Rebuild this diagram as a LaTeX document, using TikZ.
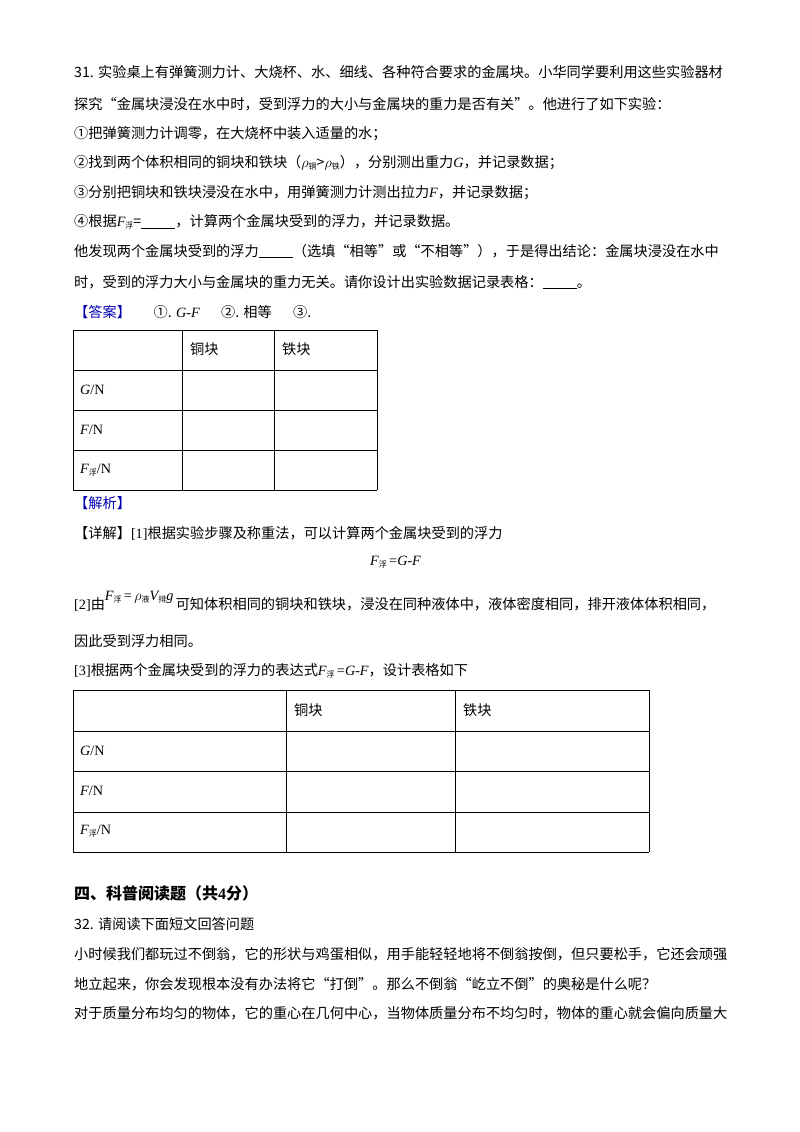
\documentclass[tikz,border=0pt]{standalone}
\usepackage{fontspec}
\setmainfont{Liberation Serif}
\newfontfamily\cjk{Noto Sans CJK SC}
\newcommand{\itx}[1]{{\itshape #1}}
\newcommand{\subx}[1]{\raisebox{-0.3ex}{\fontsize{8}{8}\selectfont #1}}
\begin{document}
\begin{tikzpicture}[x=1pt,y=-1pt,
  tx/.style={anchor=west,inner sep=0pt,font=\fontsize{14.2}{14.2}\selectfont\cjk},
  tb/.style={draw=black,line width=0.8pt},
  blue/.style={text=blue!70!black}]
\useasboundingbox (0,0) rectangle (800,1132);
\node[tx] (l1) at (74,72) {31. 实验桌上有弹簧测力计、大烧杯、水、细线、各种符合要求的金属块。小华同学要利用这些实验器材};
\node[tx] (l2) at (74,104) {探究“金属块浸没在水中时，受到浮力的大小与金属块的重力是否有关”。他进行了如下实验：};
\node[tx] (l3) at (74,134) {①把弹簧测力计调零，在大烧杯中装入适量的水；};
\node[tx] (l4) at (74,163) {②找到两个体积相同的铜块和铁块（$\rho$\subx{铜}>$\rho$\subx{铁}），分别测出重力{\rmfamily\itx{G}}，并记录数据；};
\node[tx] (l5) at (74,193) {③分别把铜块和铁块浸没在水中，用弹簧测力计测出拉力{\rmfamily\itx{F}}，并记录数据；};
\node[tx] (l6) at (74,222) {④根据{\rmfamily\itx{F}}\subx{浮}=\underline{\hspace{2.4em}}，计算两个金属块受到的浮力，并记录数据。};
\node[tx] (l7) at (74,251) {他发现两个金属块受到的浮力\underline{\hspace{2.4em}}（选填“相等”或“不相等”），于是得出结论：金属块浸没在水中};
\node[tx] (l8) at (74,282) {时，受到的浮力大小与金属块的重力无关。请你设计出实验数据记录表格：\underline{\hspace{2.4em}}。};
\node[tx] (ans) at (74,312) {{\color{blue!70!black}【答案】}\hspace{1.6em}①. {\rmfamily\itx{G-F}}\hspace{1.5em}②. 相等\hspace{1.5em}③.};
% table 1
\foreach \y in {330,370,410,450,490} \draw[tb] (73,\y) -- (377,\y);
\foreach \x in {73,182,274,377} \draw[tb] (\x,330) -- (\x,490);
\node[tx] (t1a) at (190,349) {铜块};
\node[tx] (t1b) at (282,349) {铁块};
\node[tx] (t1c) at (80,390) {{\rmfamily\itx{G}/N}};
\node[tx] (t1d) at (80,430) {{\rmfamily\itx{F}/N}};
\node[tx] (t1e) at (80,470) {{\rmfamily\itx{F}}\subx{浮}{\rmfamily /N}};
\node[tx,blue] (jx) at (74,503) {【解析】};
\node[tx] (xj) at (74,533) {【详解】{\rmfamily [1]}根据实验步骤及称重法，可以计算两个金属块受到的浮力};
\node[tx] (eq) at (370,562) {{\rmfamily\itx{F}}\subx{浮}\,{\rmfamily =\itx{G-F}}};
\node[tx] (l2b) at (74,601) {{\rmfamily [2]}由\raisebox{1.2ex}{{\rmfamily\itx{F}}\subx{浮}\,{\rmfamily =}\,$\rho$\subx{液}{\rmfamily\itx{V}}\subx{排}{\rmfamily\itx{g}}}\,可知体积相同的铜块和铁块，浸没在同种液体中，液体密度相同，排开液体体积相同，};
\node[tx] (l2c) at (74,641) {因此受到浮力相同。};
\node[tx] (l3b) at (74,671) {{\rmfamily [3]}根据两个金属块受到的浮力的表达式{\rmfamily\itx{F}}\subx{浮}\,{\rmfamily =\itx{G-F}}，设计表格如下};
% table 2
\foreach \y in {690,731,771,812,852} \draw[tb] (73,\y) -- (649,\y);
\foreach \x in {73,286,455,649} \draw[tb] (\x,690) -- (\x,852);
\node[tx] (t2a) at (294,710) {铜块};
\node[tx] (t2b) at (463,710) {铁块};
\node[tx] (t2c) at (80,751) {{\rmfamily\itx{G}/N}};
\node[tx] (t2d) at (80,791) {{\rmfamily\itx{F}/N}};
\node[tx] (t2e) at (80,831) {{\rmfamily\itx{F}}\subx{浮}{\rmfamily /N}};
\node[tx,font=\fontsize{16}{16}\selectfont\cjk\bfseries] (h4) at (74,893) {四、科普阅读题（共{\rmfamily\bfseries 4}分）};
\node[tx] (q32) at (74,924) {32. 请阅读下面短文回答问题};
\node[tx] (p1) at (74,954) {小时候我们都玩过不倒翁，它的形状与鸡蛋相似，用手能轻轻地将不倒翁按倒，但只要松手，它还会顽强};
\node[tx] (p2) at (74,984) {地立起来，你会发现根本没有办法将它“打倒”。那么不倒翁“屹立不倒”的奥秘是什么呢？};
\node[tx] (p3) at (74,1013) {对于质量分布均匀的物体，它的重心在几何中心，当物体质量分布不均匀时，物体的重心就会偏向质量大};
\end{tikzpicture}
\end{document}
